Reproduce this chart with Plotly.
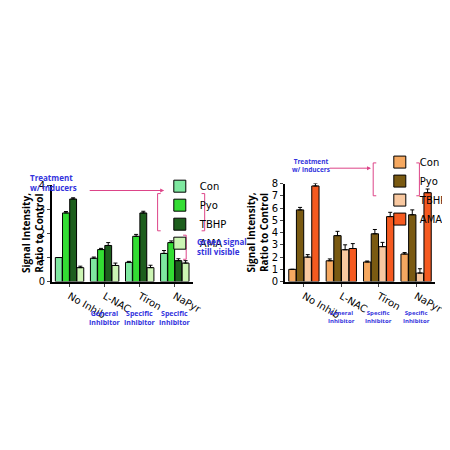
import plotly.graph_objects as go

categories = ["No Inhib", "L-NAC", "Tiron", "NaPyr"]
sublabels = ["", "General<br>Inhibitor", "Specific<br>Inhibitor", "Specific<br>Inhibitor"]
series = ["Con", "Pyo", "TBHP", "AMA"]

left_vals = {"Con": [1.0, 0.97, 0.8, 1.17], "Pyo": [2.85, 1.33, 1.88, 1.62],
             "TBHP": [3.43, 1.5, 2.85, 0.87], "AMA": [0.58, 0.67, 0.58, 0.77]}
left_err = {"Con": [0, 0.05, 0.04, 0.12], "Pyo": [0.06, 0.05, 0.08, 0.07],
            "TBHP": [0.05, 0.12, 0.07, 0.08], "AMA": [0.06, 0.1, 0.1, 0.1]}
right_vals = {"Con": [1.0, 1.7, 1.6, 2.25], "Pyo": [5.85, 3.75, 3.9, 5.45],
              "TBHP": [2.0, 2.6, 2.85, 0.7], "AMA": [7.8, 2.7, 5.3, 7.25]}
right_err = {"Con": [0, 0.15, 0.08, 0.12], "Pyo": [0.2, 0.35, 0.35, 0.4],
             "TBHP": [0.2, 0.4, 0.35, 0.35], "AMA": [0.2, 0.4, 0.35, 0.3]}

left_colors = {"Con": "#7ee8a0", "Pyo": "#33dd33", "TBHP": "#1d5e1d", "AMA": "#ccf5b4"}
right_colors = {"Con": "#f5a860", "Pyo": "#7a5a12", "TBHP": "#f8c8a0", "AMA": "#f55a20"}

fig = go.Figure()
for s in series:
    fig.add_trace(go.Bar(x=categories, y=left_vals[s], name=s, marker_color=left_colors[s],
                         marker_line=dict(color="black", width=1),
                         error_y=dict(type="data", array=left_err[s], symmetric=False, arrayminus=[0]*4,
                                      color="black", thickness=1, width=2),
                         xaxis="x", yaxis="y", legend="legend"))
for s in series:
    fig.add_trace(go.Bar(x=categories, y=right_vals[s], name=s, marker_color=right_colors[s],
                         marker_line=dict(color="black", width=1),
                         error_y=dict(type="data", array=right_err[s], symmetric=False, arrayminus=[0]*4,
                                      color="black", thickness=1, width=2),
                         xaxis="x2", yaxis="y2", legend="legend2"))

ax = dict(showline=True, linecolor="black", linewidth=2, ticks="outside", ticklen=3,
          tickfont=dict(size=10, family="Arial Black, DejaVu Sans", color="black"), showgrid=False, zeroline=False)
legfont = dict(size=10, family="DejaVu Sans", color="black")
fig.update_layout(
    width=450, height=450, margin=dict(l=0, r=0, t=0, b=0),
    paper_bgcolor="white", plot_bgcolor="white",
    barmode="group", bargap=0.18, bargroupgap=0.05,
    xaxis=dict(domain=[0.10, 0.42], anchor="y", **ax),
    yaxis=dict(domain=[0.389, 0.609], range=[0, 4], dtick=1, anchor="x", **ax),
    xaxis2=dict(domain=[0.63, 0.97], anchor="y2", **ax),
    yaxis2=dict(domain=[0.389, 0.613], range=[0, 8], dtick=1, anchor="x2", **ax),
    legend=dict(x=0.345, y=0.64, xanchor="left", yanchor="top", font=legfont,
                bgcolor="rgba(0,0,0,0)", tracegroupgap=0, itemwidth=30),
    legend2=dict(x=0.845, y=0.695, xanchor="left", yanchor="top", font=legfont,
                 bgcolor="rgba(0,0,0,0)", tracegroupgap=0, itemwidth=30),
    showlegend=True,
)

blue = "#3333dd"
pink = "#dd4488"
ann = []
for i, lab in enumerate(sublabels):
    if lab:
        ann.append(dict(x=categories[i], y=0.33, xref="x", yref="paper", text=f"<b>{lab}</b>",
                        showarrow=False, yanchor="top", font=dict(size=7, color=blue)))
        ann.append(dict(x=categories[i], y=0.33, xref="x2", yref="paper", text=f"<b>{lab}</b>",
                        showarrow=False, yanchor="top", font=dict(size=6, color=blue)))
ann += [
    dict(x=0.09, y=0.5, xref="paper", yref="paper", text="<b>Signal Intensity,<br>Ratio to Control</b>",
         textangle=-90, showarrow=False, xanchor="right", font=dict(size=10, color="black")),
    dict(x=0.60, y=0.5, xref="paper", yref="paper", text="<b>Signal Intensity,<br>Ratio to Control</b>",
         textangle=-90, showarrow=False, xanchor="right", font=dict(size=10, color="black")),
    dict(x=0.045, y=0.615, xref="paper", yref="paper", text="<b>Treatment<br>w/ inducers</b>",
         showarrow=False, xanchor="left", align="left", font=dict(size=8, color=blue)),
    dict(x=0.355, y=0.597, ax=-76, ay=0, xref="paper", yref="paper",
         showarrow=True, arrowhead=2, arrowsize=0.8, arrowwidth=1, arrowcolor=pink, text=""),
    dict(x=0.425, y=0.47, xref="paper", yref="paper", text="<b>Green signal<br>still visible</b>",
         showarrow=False, xanchor="left", align="left", font=dict(size=8, color=blue)),
    dict(x=0.64, y=0.655, xref="paper", yref="paper", text="<b>Treatment<br>w/ inducers</b>",
         showarrow=False, xanchor="left", align="center", font=dict(size=6.5, color=blue)),
    dict(x=0.825, y=0.648, ax=-43, ay=0, xref="paper", yref="paper",
         showarrow=True, arrowhead=2, arrowsize=0.8, arrowwidth=1, arrowcolor=pink, text=""),
]
fig.update_layout(annotations=ann)
L = dict(color=pink, width=1)
def bracket(x0, x1, y0, y1):
    return [dict(type="line", xref="paper", yref="paper", x0=x0, x1=x0, y0=y0, y1=y1, line=L),
            dict(type="line", xref="paper", yref="paper", x0=x0, x1=x1, y0=y0, y1=y0, line=L),
            dict(type="line", xref="paper", yref="paper", x0=x0, x1=x1, y0=y1, y1=y1, line=L)]
shapes = (bracket(0.34, 0.347, 0.59, 0.505) + bracket(0.447, 0.44, 0.59, 0.505)
          + bracket(0.405, 0.398, 0.495, 0.44)
          + bracket(0.83, 0.837, 0.66, 0.585) + bracket(0.935, 0.928, 0.66, 0.585))
fig.update_layout(shapes=shapes)
fig.write_html("out.html")
